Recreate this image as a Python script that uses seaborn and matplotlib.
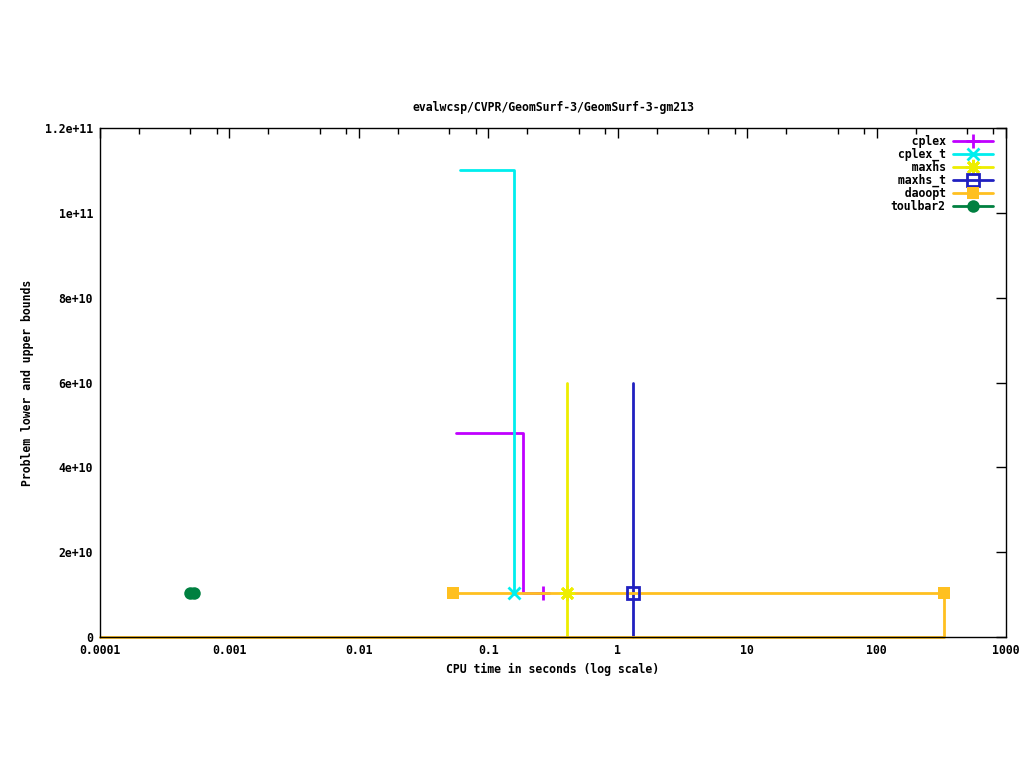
import numpy as np
import pandas as pd
import matplotlib
matplotlib.use('Agg')
import matplotlib.pyplot as plt
import seaborn as sns
from matplotlib.lines import Line2D
from matplotlib.ticker import LogLocator, FixedLocator, FixedFormatter, NullFormatter

# solver names and gnuplot-style colours
solvers = ['cplex', 'cplex_t', 'maxhs', 'maxhs_t', 'daoopt', 'toulbar2']
colors = ['#c000ff', '#00eeee', '#eeee00', '#2020c0', '#ffc020', '#008040']

# bound traces (time in seconds, bound value)
cplex_t = [0.0564, 0.186, 0.186, 0.265]
cplex_v = [4.8e10, 4.8e10, 1.04e10, 1.04e10]
cplex_t_t = [0.0605, 0.158, 0.158]
cplex_t_v = [1.1e11, 1.1e11, 1.04e10]
maxhs_t = [0.407, 0.407]
maxhs_v = [6.0e10, 0.0]
maxhs_t_t = [1.315, 1.315]
maxhs_t_v = [6.0e10, 0.0]
daoopt_ub_t = [0.0535, 333.0]
daoopt_ub_v = [1.04e10, 1.04e10]
daoopt_lb_t = [0.0001, 333.0, 333.0]
daoopt_lb_v = [0.0, 0.0, 1.04e10]

# final marker points
mark_t = {'cplex': [0.265], 'cplex_t': [0.158], 'maxhs': [0.407], 'maxhs_t': [1.315],
          'daoopt': [0.0535, 333.0], 'toulbar2': [0.000496, 0.000533]}
mark_v = {'cplex': [1.04e10], 'cplex_t': [1.04e10], 'maxhs': [1.04e10], 'maxhs_t': [1.04e10],
          'daoopt': [1.04e10, 1.04e10], 'toulbar2': [1.04e10, 1.04e10]}

x_ticks = [0.0001, 0.001, 0.01, 0.1, 1, 10, 100, 1000]
x_labels = ['0.0001', '0.001', '0.01', '0.1', '1', '10', '100', '1000']
y_ticks = [0, 2e10, 4e10, 6e10, 8e10, 1e11, 1.2e11]
y_labels = ['0', '2e+10', '4e+10', '6e+10', '8e+10', '1e+11', '1.2e+11']

sns.set_style('white')
plt.rcParams['font.family'] = ['DejaVu Sans Mono']
plt.rcParams['font.weight'] = 'bold'
plt.rcParams['axes.titleweight'] = 'bold'
plt.rcParams['axes.labelweight'] = 'bold'
for k in ['text.color', 'axes.labelcolor', 'xtick.color', 'ytick.color']:
    plt.rcParams[k] = 'black'
fs = 8.3

fig = plt.figure(figsize=(10.24, 7.68), dpi=100)
ax = fig.add_axes([100 / 1024, 1 - 637 / 768, 906 / 1024, 509 / 768])

markers = {'cplex': dict(marker='+', ms=10, mew=2),
           'cplex_t': dict(marker='x', ms=9, mew=2),
           'maxhs': dict(marker=(8, 2, 0), ms=11, mew=2),
           'maxhs_t': dict(marker='s', ms=9, mew=2, mfc='none'),
           'daoopt': dict(marker='s', ms=9, mew=0),
           'toulbar2': dict(marker='o', ms=9, mew=0)}
cmap = dict(zip(solvers, colors))
lw = 2

traces = [('cplex', cplex_t, cplex_v), ('cplex_t', cplex_t_t, cplex_t_v),
          ('maxhs', maxhs_t, maxhs_v), ('maxhs_t', maxhs_t_t, maxhs_t_v),
          ('daoopt', daoopt_ub_t, daoopt_ub_v), ('daoopt', daoopt_lb_t, daoopt_lb_v)]
for name, t, v in traces:
    sns.lineplot(x=t, y=v, estimator=None, sort=False, color=cmap[name], lw=lw, ax=ax,
                 clip_on=False, zorder=2)

for name in solvers:
    m = markers[name]
    ax.plot(mark_t[name], mark_v[name], ls='none', color=cmap[name],
            mec=cmap[name], clip_on=False, zorder=1.5 if name == 'cplex' else 5, **m)

ax.set_xscale('log')
ax.set_xlim(0.0001, 1000)
ax.set_ylim(0, 1.2e11)
ax.xaxis.set_major_locator(FixedLocator(x_ticks))
ax.xaxis.set_major_formatter(FixedFormatter(x_labels))
ax.xaxis.set_minor_locator(LogLocator(base=10, subs=[2, 5, 8], numticks=20))
ax.xaxis.set_minor_formatter(NullFormatter())
ax.yaxis.set_major_locator(FixedLocator(y_ticks))
ax.yaxis.set_major_formatter(FixedFormatter(y_labels))
ax.tick_params(which='major', direction='in', length=7, width=1, top=True, right=True,
               labelsize=fs, pad=5, color='black')
ax.tick_params(which='minor', direction='in', length=4, width=1, top=True, right=True)
for s in ax.spines.values():
    s.set_color('black')
    s.set_linewidth(1)

ax.set_title('evalwcsp/CVPR/GeomSurf-3/GeomSurf-3-gm213', fontsize=fs, pad=12)
ax.set_xlabel('CPU time in seconds (log scale)', fontsize=fs, labelpad=4)
ax.set_ylabel('Problem lower and upper bounds', fontsize=fs, labelpad=8)

width = max(len(s) for s in solvers)
handles = []
for name in solvers:
    m = dict(markers[name])
    handles.append(Line2D([], [], color=cmap[name], lw=lw, mec=cmap[name], **m))
leg = ax.legend(handles, [s.rjust(width) for s in solvers], loc='upper right',
                bbox_to_anchor=(1 - 13 / 906, 1 - 6.8 / 509),
                markerfirst=False, frameon=False, fontsize=fs, handlelength=3.5,
                handletextpad=0.6, labelspacing=0.0, borderaxespad=0.0,
                borderpad=0.0)

fig.savefig('out.png', dpi=100, facecolor='white')
